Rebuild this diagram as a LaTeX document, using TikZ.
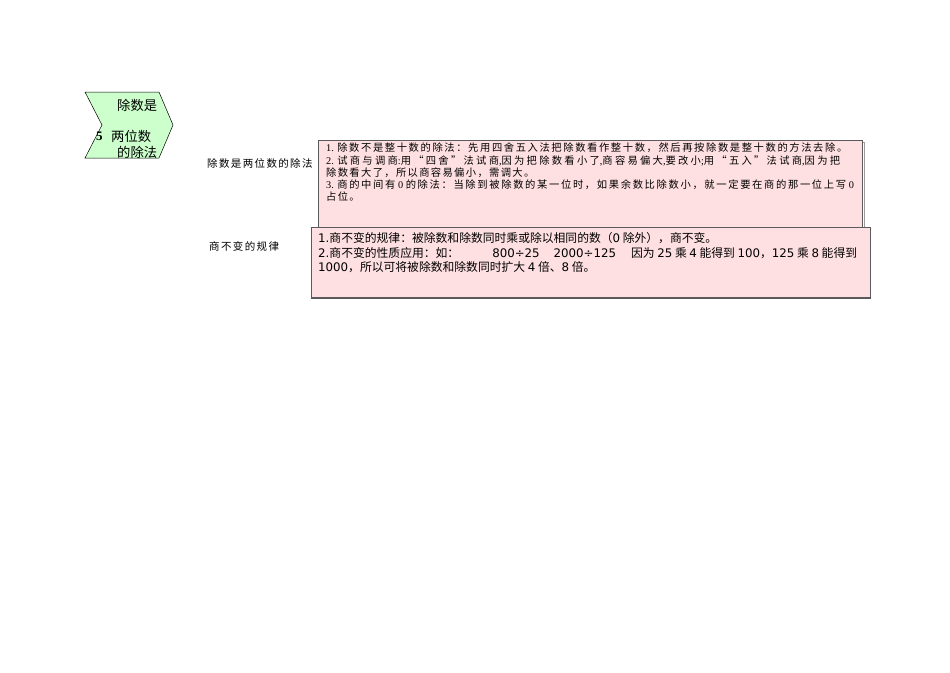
\documentclass[tikz,border=0pt]{standalone}
\usepackage{fontspec}
\setmainfont{Liberation Serif}
\newfontfamily\cjk{Noto Sans CJK SC}
\newfontfamily\cjks[LetterSpace=13]{Noto Sans CJK SC}
\newfontfamily\lser{Liberation Serif}
\newfontfamily\dsans{DejaVu Sans}
\definecolor{chevgreen}{RGB}{204,255,204}
\definecolor{boxpink}{RGB}{255,224,226}
\definecolor{boxline}{RGB}{90,90,90}
\begin{document}
\begin{tikzpicture}[x=1pt,y=-1pt,
  txt/.style={anchor=west,inner sep=0pt,font=\cjks\fontsize{10.3}{11}\selectfont},
  txtb/.style={anchor=west,inner sep=0pt,font=\cjk\fontsize{11.8}{13}\selectfont},
  lbl/.style={anchor=west,inner sep=0pt,font=\cjks\fontsize{10.5}{11}\selectfont},
  chev/.style={anchor=west,inner sep=0pt,font=\cjk\fontsize{13.3}{14}\selectfont},
  infobox/.style={fill=boxpink,draw=boxline,line width=0.8pt}]
\useasboundingbox (0,0) rectangle (950,672);
% chevron
\path[fill=chevgreen,draw=black,line width=0.5pt] (85,92) -- (159,92) -- (173,125) -- (159,158) -- (85,158) -- (102,125) -- cycle;
\node[chev] (c1) at (117,105) {除数是};
\node[anchor=west,inner sep=0pt,font=\lser\bfseries\fontsize{13}{14}\selectfont] (c5) at (96,136) {5};
\node[chev] (c2) at (111,136) {两位数};
\node[chev] (c3) at (117,152) {的除法};
% labels
\node[lbl] (l1) at (207,163) {除数是两位数的除法};
\node[lbl] (l2) at (209,246) {商不变的规律};
% box 1
\draw[boxline!60,line width=0.6pt] (320,142) -- (864,142) -- (864,230);
\node[infobox,anchor=north west,minimum width=544,minimum height=88,inner sep=0pt] (b1) at (318,140) {};
\node[txt] (t11) at (326,148) {\addfontfeature{LetterSpace=15.5}{\lser 1. }除数不是整十数的除法：先用四舍五入法把除数看作整十数，然后再按除数是整十数的方法去除。};
\node[txt] (t12) at (326,161) {\addfontfeature{LetterSpace=22}{\lser 2. }试商与调商{\lser :}用“四舍”法试商{\lser ,}因为把除数看小了{\lser ,}商容易偏大{\lser ,}要改小{\lser ;}用“五入”法试商{\lser ,}因为把};
\node[txt] (t13) at (326,173) {除数看大了，所以商容易偏小，需调大。};
\node[txt] (t14) at (326,185) {\addfontfeature{LetterSpace=16}{\lser 3. }商的中间有{\lser\ 0 }的除法：当除到被除数的某一位时，如果余数比除数小，就一定要在商的那一位上写{\lser\ 0}};
\node[txt] (t15) at (326,197) {占位。};
% box 2
\node[infobox,anchor=north west,minimum width=559,minimum height=70,inner sep=0pt] (b2) at (311,227) {};
\draw[boxline,line width=1.4pt] (b2.south west) -- (b2.south east);
\node[txtb] (t21) at (318,238) {{\dsans 1.}商不变的规律：被除数和除数同时乘或除以相同的数（{\dsans 0} 除外），商不变。};
\node[txtb] (t22) at (318,253) {{\dsans 2.}商不变的性质应用：如：\hspace{33pt}{\dsans 800÷25\hspace{14pt}2000÷125}\hspace{15pt}因为 {\dsans 25} 乘 {\dsans 4} 能得到 {\dsans 100}，{\dsans 125} 乘 {\dsans 8} 能得到};
\node[txtb] (t23) at (318,267) {{\dsans 1000}，所以可将被除数和除数同时扩大 {\dsans 4} 倍、{\dsans 8} 倍。};
\end{tikzpicture}
\end{document}
